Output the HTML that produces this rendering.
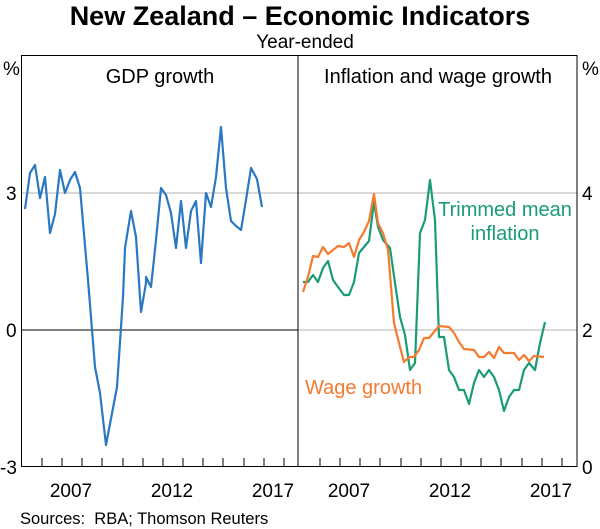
<!DOCTYPE html>
<html><head><meta charset="utf-8"><style>
body{margin:0;background:#fff;}
svg{display:block;font-family:"Liberation Sans",sans-serif;}
</style></head><body>
<svg width="600" height="529" viewBox="0 0 600 529" xmlns="http://www.w3.org/2000/svg">
<text x="300" y="25" font-size="27" font-weight="bold" text-anchor="middle">New Zealand – Economic Indicators</text>
<text x="305" y="48" font-size="19" text-anchor="middle">Year-ended</text>
<line x1="22" y1="193" x2="577" y2="193" stroke="#b3b3b3" stroke-width="1"/>
<line x1="298" y1="330" x2="577" y2="330" stroke="#b3b3b3" stroke-width="1"/>
<line x1="22" y1="330" x2="298" y2="330" stroke="#000" stroke-width="1"/>
<rect x="21.5" y="55.5" width="555.5" height="411" fill="none" stroke="#000" stroke-width="1"/>
<line x1="298" y1="55" x2="298" y2="467" stroke="#000" stroke-width="1"/>
<g stroke="#000" stroke-width="1">
<path d="M42 466v-8M62 466v-8M82 466v-8M102 466v-8M123 466v-8M143 466v-8M163 466v-8M183 466v-8M203 466v-8M223 466v-8M244 466v-8M264 466v-8M284 466v-8"/>
<path d="M320 466v-8M340 466v-8M360 466v-8M380 466v-8M401 466v-8M421 466v-8M441 466v-8M461 466v-8M481 466v-8M501 466v-8M522 466v-8M542 466v-8M562 466v-8"/>
</g>
<g font-size="19">
<text x="3" y="75">%</text>
<text x="582" y="75">%</text>
<text x="6" y="200">3</text>
<text x="6" y="337">0</text>
<text x="0" y="474">-3</text>
<text x="582" y="200">4</text>
<text x="582" y="337">2</text>
<text x="582" y="474">0</text>
<text x="71" y="497" text-anchor="middle">2007</text>
<text x="172" y="497" text-anchor="middle">2012</text>
<text x="273" y="497" text-anchor="middle">2017</text>
<text x="349" y="497" text-anchor="middle">2007</text>
<text x="450" y="497" text-anchor="middle">2012</text>
<text x="551" y="497" text-anchor="middle">2017</text>
</g>
<g font-size="20">
<text x="160" y="83" text-anchor="middle">GDP growth</text>
<text x="438" y="83" text-anchor="middle">Inflation and wage growth</text>
<text x="505" y="216" text-anchor="middle" fill="#1a9b78">Trimmed mean</text>
<text x="505" y="240" text-anchor="middle" fill="#1a9b78">inflation</text>
<text x="305" y="394" fill="#f47a30">Wage growth</text>
</g>
<text x="20" y="524" font-size="16.5" xml:space="preserve">Sources:  RBA; Thomson Reuters</text>
<polyline fill="none" stroke="#2a78c2" stroke-width="2.2" stroke-linejoin="round" points="25,209 30,173 35,165 40,198 45,177 50,233 55,214 60,170 65,193 70,180 75,172 80,188 88,280 95,367 100,393 106,445 117,387 123,297 125,248 131,211 136,237 141,312 146,283 146,277 151,287 156,240 161,188 166,195 171,213 176,248 181,201 186,248 191,211 196,201 201,263 206,193 211,207 216,177 221,127 226,188 231,221 236,226 241,230 246,200 251,168 257,179 262,207"/>
<polyline fill="none" stroke="#1a9b78" stroke-width="2.2" stroke-linejoin="round" points="303,282 308,282 313,275 318,282 323,268 328,261 333,280 338,287 344,295 349,295 354,282 359,253 364,247 369,241 374,202 378,227 383,240 390,248 395,283 400,317 405,335 410,370 415,363 420,233 425,220 430,180 435,220 439,337 444,337 449,370 454,377 459,390 464,390 469,404 474,383 479,370 484,377 489,370 494,377 499,390 504,411 509,397 514,390 519,390 524,370 529,363 535,370 540,343 545,322"/>
<polyline fill="none" stroke="#f47a30" stroke-width="2.2" stroke-linejoin="round" points="303,292 308,277 313,256 318,257 323,247 328,254 333,250 338,246 344,247 349,243 354,257 359,240 364,232 369,221 374,194 378,223 383,233 388,250 394,323 399,343 404,362 409,357 414,357 419,350 424,338 429,338 439,326 449,327 454,333 459,342 464,349 474,350 479,357 484,357 489,352 494,358 499,347 504,353 514,353 519,360 524,355 529,361 534,356 544,357"/>
</svg>
</body></html>
